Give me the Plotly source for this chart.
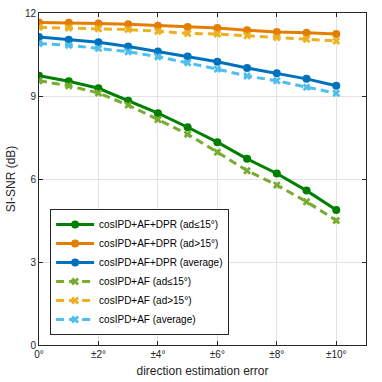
import plotly.graph_objects as go

# direction estimation error (degrees)
err = [0, 1, 2, 3, 4, 5, 6, 7, 8, 9, 10]
tick_vals = [0, 2, 4, 6, 8, 10]
tick_text = ["0°", "±2°", "±4°", "±6°", "±8°", "±10°"]

# SI-SNR (dB)
dpr_small = [9.73, 9.53, 9.28, 8.83, 8.38, 7.87, 7.33, 6.73, 6.20, 5.58, 4.88]
dpr_large = [11.66, 11.65, 11.62, 11.59, 11.54, 11.49, 11.46, 11.38, 11.31, 11.29, 11.24]
dpr_avg = [11.13, 11.03, 10.94, 10.79, 10.61, 10.43, 10.24, 10.01, 9.82, 9.62, 9.37]
af_small = [9.55, 9.37, 9.11, 8.67, 8.15, 7.62, 6.97, 6.30, 5.78, 5.18, 4.50]
af_large = [11.48, 11.46, 11.43, 11.40, 11.34, 11.26, 11.24, 11.18, 11.11, 11.05, 10.99]
af_avg = [10.90, 10.83, 10.72, 10.60, 10.42, 10.20, 9.97, 9.72, 9.55, 9.32, 9.10]

series = [
    ("cosIPD+AF+DPR (ad≤15°)", dpr_small, "#008000", "solid", "circle"),
    ("cosIPD+AF+DPR (ad>15°)", dpr_large, "#E57E00", "solid", "circle"),
    ("cosIPD+AF+DPR (average)", dpr_avg, "#0072BD", "solid", "circle"),
    ("cosIPD+AF (ad≤15°)", af_small, "#77AC30", "dash", "x"),
    ("cosIPD+AF (ad>15°)", af_large, "#EDB120", "dash", "x"),
    ("cosIPD+AF (average)", af_avg, "#4DBEEE", "dash", "x"),
]

fig = go.Figure()
for name, vals, color, dash, sym in series:
    fig.add_trace(go.Scatter(
        x=err, y=vals, name=name, mode="lines+markers",
        line=dict(color=color, width=3, dash="8px,5px" if dash == "dash" else "solid"),
        marker=dict(symbol=sym, size=8 if sym == "circle" else 7, color=color),
    ))

axis_common = dict(
    showline=True, linecolor="#262626", linewidth=1, mirror="allticks",
    ticks="inside", ticklen=4, tickcolor="#262626",
    showgrid=True, gridcolor="#E3E3E3", gridwidth=1, zeroline=False,
    tickfont=dict(size=10, color="#262626"),
)

fig.update_xaxes(
    range=[0, 11], tickmode="array", tickvals=tick_vals, ticktext=tick_text,
    title=dict(text="direction estimation error", font=dict(size=12, color="#262626"), standoff=7),
    **axis_common,
)
fig.update_yaxes(
    range=[0, 12], tickmode="array", tickvals=[0, 3, 6, 9, 12],
    title=dict(text="SI-SNR (dB)", font=dict(size=12, color="#262626"), standoff=6),
    **axis_common,
)

fig.update_layout(
    width=382, height=382,
    margin=dict(l=39, r=16, t=13, b=37, autoexpand=False),
    paper_bgcolor="white", plot_bgcolor="white",
    font=dict(family="Liberation Sans, Arial, sans-serif", color="#262626"),
    legend=dict(
        x=0.034, y=0.03, xanchor="left", yanchor="bottom",
        bgcolor="white", bordercolor="#262626", borderwidth=1,
        font=dict(size=10, color="#000000"),
        tracegroupgap=0, itemwidth=38,
    ),
    showlegend=True,
)

# drop the browser's default body margin so the figure sits at the page origin
fig.write_html(
    "out.html",
    config={"displayModeBar": False},
    post_script="document.body.style.margin='0';",
)
